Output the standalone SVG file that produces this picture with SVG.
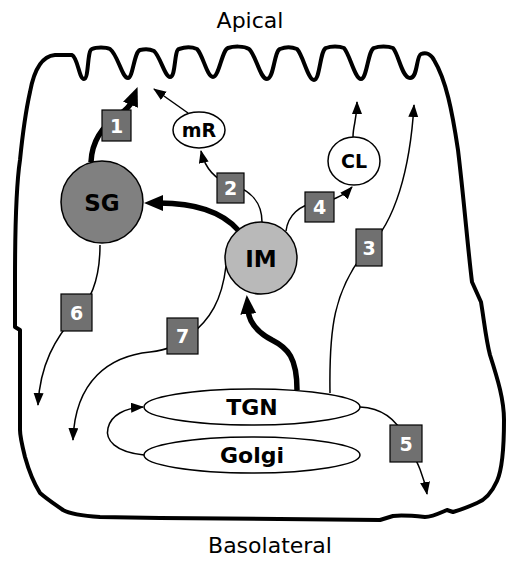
<svg xmlns="http://www.w3.org/2000/svg" width="514" height="563" viewBox="0 0 514 563">
<style>
.cell{fill:none;stroke:#000;stroke-width:4;stroke-linejoin:round;stroke-linecap:round}
.thin{fill:none;stroke:#000;stroke-width:1.5}
.thick{fill:none;stroke:#000;stroke-width:5.5}
.node{stroke:#000;stroke-width:1.5}
.lbl{font-family:"DejaVu Sans",Verdana,sans-serif;font-weight:bold;text-anchor:middle;fill:#000}
.num{font-family:"DejaVu Sans",Verdana,sans-serif;font-weight:bold;text-anchor:middle;fill:#fff;font-size:19px}
.box{fill:#707070;stroke:#000;stroke-width:1.2}
.side{font-family:"DejaVu Sans",Verdana,sans-serif;font-size:22px;text-anchor:middle;fill:#000}
</style>
<defs>
<marker id="a" markerUnits="userSpaceOnUse" markerWidth="14" markerHeight="12" refX="12" refY="5" orient="auto"><path d="M0,0 L13,5 L0,10 z" fill="#000"/></marker>
<marker id="A" markerUnits="userSpaceOnUse" markerWidth="22" markerHeight="18" refX="4" refY="8" orient="auto"><path d="M0,0 L19,8 L0,16 z" fill="#000"/></marker>
</defs>
<rect width="514" height="563" fill="#fff"/>
<text class="side" x="250" y="28">Apical</text>
<text class="side" x="270" y="553">Basolateral</text>
<path id="cell" class="cell" d="M 30,92 C 34,70 42,56 55,55 L 72,55 C 78,58 79,79 84,79 C 89,79 87,50 92,49 C 96,47 106,47 110,49 C 118,55 122,78 128,78 C 133,78 134,52 140,50 C 144,49 150,49 154,51 C 160,56 165,77 170,77 C 176,77 174,50 179,49 C 185,47 192,47 197,49 C 203,55 207,77 213,77 C 219,77 222,50 228,48 C 234,46 244,46 249,49 C 256,55 260,79 267,79 C 274,79 274,51 280,49 C 285,47 292,47 297,49 C 303,55 308,80 314,80 C 320,80 320,50 326,48 C 331,46 339,46 344,48 C 350,55 355,79 361,79 C 367,79 368,50 374,48 C 379,46 388,46 393,48 C 399,55 402,78 410,78 C 418,78 416,56 421,54 C 426,52 431,54 434,60 C 446,80 452,110 458,150 C 464,200 468,250 472,282 L 481,302 C 484,320 486,340 490,355 C 498,380 504,400 504,420 C 504,450 502,470 497,481 C 492,492 485,500 477,503 C 468,507 460,510 453,512 L 447,510 C 440,513 432,517 425,517 C 415,516 400,515 393,516 L 380,520 L 160,518 L 100,517 C 85,516 70,514 63,510 C 56,505 48,500 40,493 C 35,485 30,475 25,457 C 22,445 20,435 20,430 L 20,330 L 15,327 L 15,280 C 15,220 17,180 20,160 C 23,130 26,110 30,92 Z"/>
<g id="connectors">
<path class="thick" d="M 91,162 C 92,136 108,122 120,114 C 126,110 130,106 132,101" marker-end="url(#A)"/>
<path class="thick" d="M 238,230 C 222,212 195,203 159,203" marker-end="url(#A)"/>
<path class="thick" d="M 297,390 C 297,358 288,348 272,340 C 257,332 249,322 248,310" marker-end="url(#A)"/>
<path class="thin" d="M 262,222 C 262,202 250,190 232,185 C 215,180 205,168 201,151" marker-end="url(#a)"/>
<path class="thin" d="M 188,113 L 154,89" marker-end="url(#a)"/>
<path class="thin" d="M 286,231 C 288,215 300,205 315,203 C 330,202 344,196 352,187" marker-end="url(#a)"/>
<path class="thin" d="M 353,137 C 353,125 357,120 357,102" marker-end="url(#a)"/>
<path class="thin" d="M 330,393 C 329,330 333,290 368,248 C 395,222 410,170 414,105" marker-end="url(#a)"/>
<path class="thin" d="M 100,245 C 100,275 92,300 76,315 C 55,338 40,365 38,405" marker-end="url(#a)"/>
<path class="thin" d="M 226,266 C 222,300 210,320 190,335 C 178,345 168,350 150,352 C 110,356 75,380 73,440" marker-end="url(#a)"/>
<path class="thin" d="M 360,407 C 380,408 396,418 405,438 C 413,455 423,470 427,494" marker-end="url(#a)"/>
<path class="thin" d="M 144,455 C 115,452 105,440 108,428 C 111,415 125,408 143,407" marker-end="url(#a)"/>
</g>
<g id="SG"><circle class="node" cx="102" cy="202" r="41" fill="#808080"/><text class="lbl" x="102" y="210.5" font-size="23">SG</text></g>
<g id="IM"><circle class="node" cx="261" cy="258" r="36" fill="#b9b9b9"/><text class="lbl" x="261" y="266.5" font-size="23">IM</text></g>
<g id="mR"><ellipse class="node" cx="199" cy="130" rx="26" ry="18" fill="#fff"/><text class="lbl" x="199" y="137" font-size="19">mR</text></g>
<g id="CL"><ellipse class="node" cx="354" cy="161" rx="26" ry="24" fill="#fff"/><text class="lbl" x="354" y="168" font-size="19">CL</text></g>
<g id="TGN"><ellipse class="node" cx="252" cy="407" rx="108" ry="18" fill="#fff"/><text class="lbl" x="252" y="415" font-size="22">TGN</text></g>
<g id="Golgi"><ellipse class="node" cx="252" cy="455" rx="108" ry="18" fill="#fff"/><text class="lbl" x="252" y="463" font-size="22">Golgi</text></g>
<g id="b1"><rect class="box" x="102" y="110" width="29" height="31"/><text class="num" x="116.5" y="132.5">1</text></g>
<g id="b2"><rect class="box" x="217" y="173" width="27" height="30"/><text class="num" x="230.5" y="195">2</text></g>
<g id="b3"><rect class="box" x="356" y="229" width="26" height="37"/><text class="num" x="369" y="254.5">3</text></g>
<g id="b4"><rect class="box" x="305" y="192" width="29" height="30"/><text class="num" x="319.5" y="214">4</text></g>
<g id="b5"><rect class="box" x="390" y="425" width="32" height="37"/><text class="num" x="406" y="450.5">5</text></g>
<g id="b6"><rect class="box" x="61" y="294" width="31" height="37"/><text class="num" x="76.5" y="319.5">6</text></g>
<g id="b7"><rect class="box" x="167" y="318" width="31" height="36"/><text class="num" x="182.5" y="343">7</text></g>
</svg>
